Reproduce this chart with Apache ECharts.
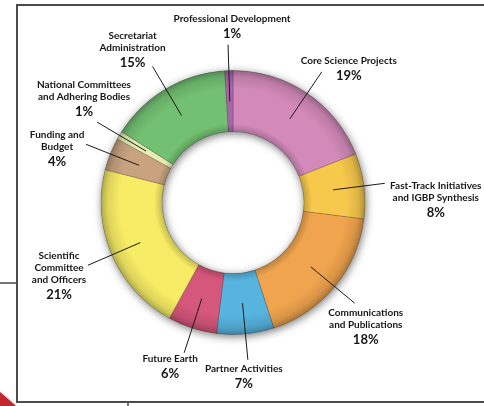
<!DOCTYPE html>
<html>
<head>
<meta charset="utf-8">
<script src="https://cdn.jsdelivr.net/npm/echarts@6/dist/echarts.min.js"></script>
<style>
  html, body { margin: 0; padding: 0; background: #ffffff; }
  #chart { width: 484px; height: 406px; }
</style>
</head>
<body>
<div id="chart"></div>
<script>
// Budget breakdown, clockwise from twelve o'clock
const categories = [
  'Core Science Projects',
  'Fast-Track Initiatives\nand IGBP Synthesis',
  'Communications\nand Publications',
  'Partner Activities',
  'Future Earth',
  'Scientific\nCommittee\nand Officers',
  'Funding and\nBudget',
  'National Committees\nand Adhering Bodies',
  'Secretariat\nAdministration',
  'Professional Development'
];
const shares = [19, 8, 18, 7, 6, 21, 4, 1, 15, 1];
const sliceColors = [
  '#D38ABA', '#F6C84C', '#F0A44E', '#57B4DF', '#D5577B',
  '#F6EC65', '#C9A37F', '#E6ECB2', '#72C072', '#A866A8'
];
// leader line length beyond the mid-ring anchor, per label
const leaderLength = [57, 52, 57, 57, 57, 57, 57, 57, 57, 57];
// offset of each label block centre from the end of its leader line
const labelShift = [
  [27, -2], [51, 17], [11, 25], [-4, 18], [-14, 15],
  [-29, 12], [-29, 5], [-13, -22], [-20, -16], [4, -17]
];

const CX = 233, CY = 202.5, R_IN = 71, R_OUT = 132, R_MID = 101;

function shade(hex, f) {
  const n = parseInt(hex.slice(1), 16);
  const r = Math.round(((n >> 16) & 255) * f);
  const g = Math.round(((n >> 8) & 255) * f);
  const b = Math.round((n & 255) * f);
  return 'rgb(' + r + ',' + g + ',' + b + ')';
}

function ringFill(hex) {
  const k = R_IN / R_OUT;
  return new echarts.graphic.RadialGradient(CX, CY, R_OUT, [
    { offset: 0, color: shade(hex, 0.8) },
    { offset: k, color: shade(hex, 0.8) },
    { offset: k + 0.06, color: hex },
    { offset: 0.86, color: hex },
    { offset: 0.95, color: shade(hex, 0.9) },
    { offset: 1, color: shade(hex, 0.72) }
  ], true);
}

const ringData = categories.map((name, i) => ({
  name: name,
  value: shares[i],
  itemStyle: { color: ringFill(sliceColors[i]) }
}));
const guideData = categories.map((name, i) => ({
  name: name,
  value: shares[i],
  labelLine: { length: leaderLength[i] }
}));

const chart = echarts.init(document.getElementById('chart'), null, { renderer: 'canvas' });

chart.setOption({
  animation: false,
  backgroundColor: '#ffffff',
  graphic: [
    {
      type: 'rect', z: 0,
      shape: { x: 17, y: 5, width: 520, height: 397 },
      style: { fill: 'none', stroke: '#4b4b4b', lineWidth: 2 }
    },
    {
      type: 'line', z: 0,
      shape: { x1: 0, y1: 283, x2: 17, y2: 283 },
      style: { stroke: '#4b4b4b', lineWidth: 1.5 }
    },
    {
      type: 'line', z: 0,
      shape: { x1: 128, y1: 402, x2: 128, y2: 406 },
      style: { stroke: '#4b4b4b', lineWidth: 1.5 }
    },
    {
      type: 'polygon', z: 0,
      shape: { points: [[0, 392], [16, 406], [0, 406]] },
      style: { fill: '#C4262E', shadowBlur: 3, shadowColor: 'rgba(0,0,0,0.4)' }
    }
  ],
  series: [
    {
      // soft shadow behind the ring
      type: 'pie', silent: true, z: 1,
      center: [CX, CY], radius: [R_IN, R_OUT],
      label: { show: false }, labelLine: { show: false },
      itemStyle: { color: '#777', shadowBlur: 9, shadowColor: 'rgba(0,0,0,0.55)', shadowOffsetX: 1, shadowOffsetY: 2 },
      data: [{ name: '', value: 1 }]
    },
    {
      type: 'pie', silent: true, z: 2,
      center: [CX, CY], radius: [R_IN, R_OUT],
      startAngle: 90, clockwise: true,
      avoidLabelOverlap: false,
      label: { show: false }, labelLine: { show: false },
      itemStyle: { borderColor: 'rgba(0,0,0,0.28)', borderWidth: 0.6 },
      data: ringData
    },
    {
      // invisible inner pie that anchors the leader lines mid-ring
      type: 'pie', silent: true, z: 3,
      center: [CX, CY], radius: [0, R_MID],
      startAngle: 90, clockwise: true,
      avoidLabelOverlap: false,
      itemStyle: { color: 'rgba(0,0,0,0)', borderWidth: 0 },
      labelLine: {
        show: true, length: 57, length2: 0, smooth: false,
        lineStyle: { color: '#1a1a1a', width: 1 }
      },
      label: {
        show: true, position: 'outside',
        formatter: '{n|{b}}\n{p|{c}%}',
        rich: {
          n: { fontFamily: 'Lato', fontWeight: 'bold', fontSize: 10, lineHeight: 12, color: '#161616', align: 'center' },
          p: { fontFamily: 'Lato', fontWeight: 'bold', fontSize: 13, lineHeight: 18, color: '#161616', align: 'center' }
        }
      },
      labelLayout: function (p) {
        const pts = p.labelLinePoints;
        const end = pts[pts.length - 1];
        const s = labelShift[p.dataIndex];
        return {
          x: end[0] + s[0], y: end[1] + s[1],
          align: 'center', verticalAlign: 'middle',
          labelLinePoints: pts
        };
      },
      data: guideData
    }
  ]
});
</script>
</body>
</html>
